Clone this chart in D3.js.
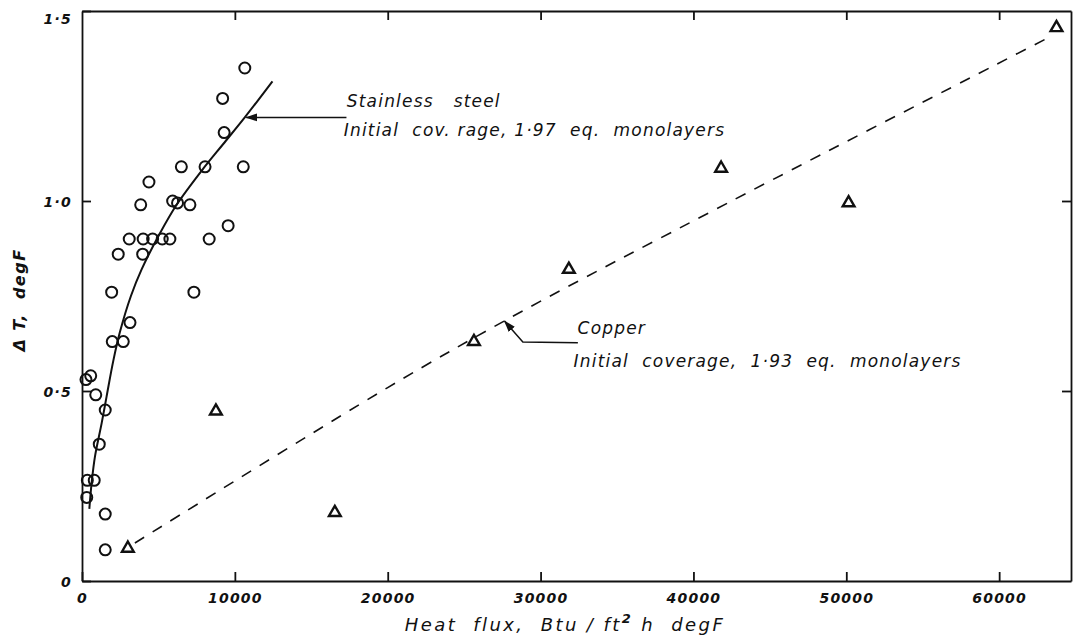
<!DOCTYPE html>
<html>
<head>
<meta charset="utf-8">
<script src="https://cdn.jsdelivr.net/npm/d3@7"></script>
<style>
  body { margin: 0; background: #fff; }
  svg text { font-family: "DejaVu Sans", sans-serif; font-style: italic; fill: #111; white-space: pre; }
</style>
</head>
<body>
<div id="chart"></div>
<script>
// heat flux vs temperature difference, stainless steel (circles) and copper (triangles)
const steelFlux = [10650, 9200, 9300, 6500, 8050, 10550, 4380, 3840, 5930, 6250, 7060, 9560,
                   3090, 4000, 4620, 5250, 5750, 8320, 2370, 3970, 1940, 7320, 3140, 1980, 2700,
                   260, 570, 900, 1520, 1130, 350, 800, 310, 1520, 1520];
const steelDT   = [1.35, 1.27, 1.18, 1.09, 1.09, 1.09, 1.05, 0.99, 1.0, 0.995, 0.99, 0.935,
                   0.90, 0.90, 0.90, 0.90, 0.90, 0.90, 0.86, 0.86, 0.76, 0.76, 0.68, 0.63, 0.63,
                   0.53, 0.54, 0.49, 0.45, 0.36, 0.265, 0.265, 0.22, 0.176, 0.082];

const copperFlux = [3000, 8760, 16540, 25640, 31850, 41810, 50150, 63750];
const copperDT   = [0.086, 0.447, 0.18, 0.63, 0.82, 1.086, 0.995, 1.456];

// hand drawn fitted curves
const steelCurveFlux = [480, 630, 850, 1290, 1610, 2050, 2480, 3200, 3900, 5100, 6190, 7930, 9240, 10650, 12460];
const steelCurveDT   = [0.19, 0.258, 0.328, 0.416, 0.486, 0.58, 0.655, 0.75, 0.82, 0.915, 0.99, 1.085, 1.15, 1.22, 1.315];
const copperLineFlux = [3460, 20000, 28430, 42350, 63470];
const copperLineDT   = [0.10, 0.509, 0.702, 0.997, 1.435];

const xTicks = [0, 10000, 20000, 30000, 40000, 50000, 60000];
const xTickLabels = ["0", "10000", "20000", "30000", "40000", "50000", "60000"];
const yTicks = [0, 0.5, 1.0, 1.5];
const yTickLabels = ["0", "0·5", "1·0", "1·5"];

const W = 1074, H = 639;
const margin = {top: 11, right: 3, bottom: 58, left: 82};
const width = W - margin.left - margin.right,
      height = H - margin.top - margin.bottom;

let x = d3.scaleLinear().domain([0, 64700]).range([0, width]);
let y = d3.scaleLinear().domain([0, 1.5]).range([height, 0]);

let svg = d3.select("#chart").append("svg")
    .attr("width", W)
    .attr("height", H);

let defs = svg.append("defs");
defs.append("marker")
    .attr("id", "arrow")
    .attr("viewBox", "0 -5 12 10")
    .attr("refX", 11)
    .attr("refY", 0)
    .attr("markerWidth", 12)
    .attr("markerHeight", 10)
    .attr("markerUnits", "userSpaceOnUse")
    .attr("orient", "auto")
  .append("path")
    .attr("d", "M0,-4L12,0L0,4Z")
    .attr("fill", "#111");

let g = svg.append("g")
    .attr("transform", `translate(${margin.left},${margin.top})`);

// axes, ticks point inwards
let xAxis = d3.axisBottom(x).tickValues(xTicks)
    .tickFormat((d, i) => xTickLabels[i])
    .tickSizeInner(-9).tickSizeOuter(0).tickPadding(10);
let yAxis = d3.axisLeft(y).tickValues(yTicks)
    .tickFormat((d, i) => yTickLabels[i])
    .tickSizeInner(-9).tickSizeOuter(0).tickPadding(10);
let topAxis = d3.axisTop(x).tickValues(xTicks.slice(1))
    .tickFormat("").tickSizeInner(-9).tickSizeOuter(0);
let rightAxis = d3.axisRight(y).tickValues([0.5, 1.0])
    .tickFormat("").tickSizeInner(-9).tickSizeOuter(0);

g.append("g").attr("class", "x axis")
    .attr("transform", `translate(0,${height})`)
    .call(xAxis);
g.append("g").attr("class", "y axis").call(yAxis);
g.append("g").attr("class", "top axis").call(topAxis);
g.append("g").attr("class", "right axis")
    .attr("transform", `translate(${width},0)`)
    .call(rightAxis);

g.selectAll(".axis path, .axis line")
    .attr("stroke", "#111")
    .attr("stroke-width", 1.8);
g.selectAll(".axis text")
    .style("font-size", "14px")
    .style("font-family", "\"DejaVu Sans\", sans-serif")
    .style("font-style", "italic")
    .style("font-weight", "bold")
    .style("letter-spacing", "1.2px")
    .attr("fill", "#111");
g.selectAll(".x.axis text").attr("dy", "0.85em");
g.selectAll(".y.axis text").attr("dy", d => d === 1.5 ? "0.9em" : "0.4em");

// axis titles
svg.append("text")
    .attr("x", 565)
    .attr("y", 631)
    .attr("text-anchor", "middle")
    .style("font-size", "18px")
    .style("letter-spacing", "2.4px")
    .html("Heat  flux,  Btu / ft<tspan dy=\"-8\" font-size=\"13\" font-weight=\"bold\">2</tspan><tspan dy=\"8\"> h  degF</tspan>");

svg.append("text")
    .attr("text-anchor", "middle")
    .attr("transform", "translate(25,300)rotate(-90)")
    .style("font-size", "16px")
    .style("font-weight", "bold")
    .style("letter-spacing", "1.5px")
    .text("Δ T,  degF");

// fitted curves
let steelCurve = steelCurveFlux.map((d, i) => [d, steelCurveDT[i]]);
let copperLine = copperLineFlux.map((d, i) => [d, copperLineDT[i]]);
let line = d3.line()
    .x(d => x(d[0]))
    .y(d => y(d[1]))
    .curve(d3.curveCatmullRom);

g.append("path")
    .datum(steelCurve)
    .attr("d", line)
    .attr("fill", "none")
    .attr("stroke", "#111")
    .attr("stroke-width", 2);

g.append("path")
    .datum(copperLine)
    .attr("d", line)
    .attr("fill", "none")
    .attr("stroke", "#111")
    .attr("stroke-width", 1.6)
    .attr("stroke-dasharray", "11,10");

// points
let steel = steelFlux.map((d, i) => ({q: d, t: steelDT[i]}));
let copper = copperFlux.map((d, i) => ({q: d, t: copperDT[i]}));

g.selectAll("circle.steel")
    .data(steel)
    .enter()
    .append("circle")
    .attr("class", "steel")
    .attr("cx", d => x(d.q))
    .attr("cy", d => y(d.t))
    .attr("r", 5.5)
    .attr("fill", "none")
    .attr("stroke", "#111")
    .attr("stroke-width", 2);

g.selectAll("path.copper")
    .data(copper)
    .enter()
    .append("path")
    .attr("class", "copper")
    .attr("d", d3.symbol(d3.symbolTriangle).size(60))
    .attr("transform", d => `translate(${x(d.q)},${y(d.t)})`)
    .attr("fill", "none")
    .attr("stroke", "#111")
    .attr("stroke-width", 2.4);

// annotations (data units)
g.append("path")
    .attr("d", d3.line()([[x(17300), y(1.22)], [x(10750), y(1.22)]]))
    .attr("stroke", "#111")
    .attr("stroke-width", 1.5)
    .attr("fill", "none")
    .attr("marker-end", "url(#arrow)");

g.append("path")
    .attr("d", d3.line()([[x(32440), y(0.627)], [x(28840), y(0.629)], [x(27640), y(0.684)]]))
    .attr("stroke", "#111")
    .attr("stroke-width", 1.5)
    .attr("fill", "none")
    .attr("marker-end", "url(#arrow)");

let notes = [
  {q: 17320, t: 1.248, s: "Stainless   steel"},
  {q: 17120, t: 1.172, s: "Initial  cov. rage, 1·97  eq.  monolayers"},
  {q: 32420, t: 0.649, s: "Copper"},
  {q: 32160, t: 0.562, s: "Initial  coverage,  1·93  eq.  monolayers"}
];
g.selectAll("text.note")
    .data(notes)
    .enter()
    .append("text")
    .attr("class", "note")
    .attr("x", d => x(d.q))
    .attr("y", d => y(d.t))
    .style("font-size", "17px")
    .style("letter-spacing", "1.2px")
    .text(d => d.s);
</script>
</body>
</html>
